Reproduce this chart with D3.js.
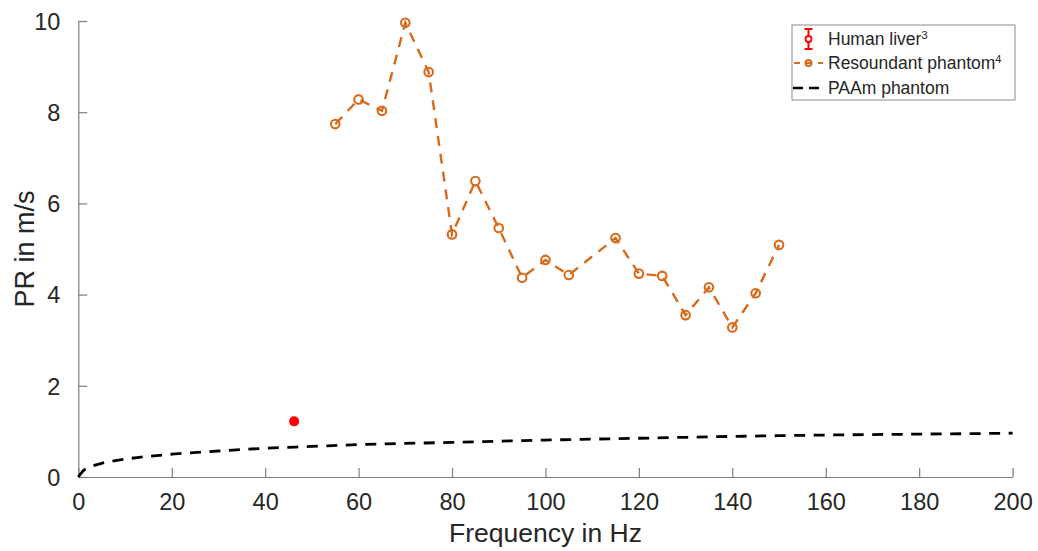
<!DOCTYPE html>
<html>
<head>
<meta charset="utf-8">
<script src="https://cdn.jsdelivr.net/npm/d3@7"></script>
<style>
  body { margin: 0; background: #fff; }
  text { font-family: "Liberation Sans", Arial, sans-serif; fill: #262626; }
</style>
</head>
<body>
<svg id="chart" width="1038" height="551"></svg>
<script>
// Data
var liverFreq = [46.2];
var liverPR = [1.22];
var liverErr = [0.03];

var resFreq = [55, 60, 65, 70, 75, 80, 85, 90, 95, 100, 105, 115, 120, 125, 130, 135, 140, 145, 150];
var resPR = [7.74, 8.28, 8.03, 9.96, 8.88, 5.32, 6.49, 5.46, 4.37, 4.76, 4.43, 5.24, 4.46, 4.41, 3.55, 4.16, 3.28, 4.03, 5.09];

var paamFreq = [0, 1, 3, 5, 10, 20, 30, 40, 50, 60, 80, 100, 120, 140, 160, 180, 200];
var paamPR = [0, 0.13, 0.24, 0.3, 0.39, 0.5, 0.57, 0.63, 0.67, 0.71, 0.76, 0.81, 0.85, 0.89, 0.92, 0.94, 0.96];

var xTicks = [0, 20, 40, 60, 80, 100, 120, 140, 160, 180, 200];
var yTicks = [0, 2, 4, 6, 8, 10];

var legendLabels = ["Human liver", "Resoundant phantom", "PAAm phantom"];
var legendSups = ["3", "4", ""];

var ORANGE = "#D96A1B";
var RED = "#FF0000";
var AXIS_COLOR = "#7f7f7f";

var svg = d3.select("#chart");

var xScale = d3.scaleLinear().domain([0, 200]).range([78.3, 1012.6]);
var yScale = d3.scaleLinear().domain([0, 10]).range([477, 21]);

// Axes (MATLAB style: ticks inside, no box)
var xAxis = d3.axisBottom(xScale).tickValues(xTicks).tickSizeInner(-9).tickSizeOuter(0).tickPadding(16);
var yAxis = d3.axisLeft(yScale).tickValues(yTicks).tickSizeInner(-9).tickSizeOuter(0).tickPadding(18);

var gx = svg.append("g")
    .attr("transform", "translate(0," + yScale(0) + ")")
    .call(xAxis);
var gy = svg.append("g")
    .attr("transform", "translate(" + xScale(0) + ",0)")
    .call(yAxis);

[gx, gy].forEach(function (g) {
    g.select(".domain").attr("stroke", AXIS_COLOR).attr("stroke-width", 1.2);
    g.selectAll(".tick line").attr("stroke", AXIS_COLOR).attr("stroke-width", 1.2);
    g.selectAll(".tick text")
        .attr("font-size", 23.5)
        .attr("font-family", "Liberation Sans, Arial, sans-serif")
        .style("fill", "#262626");
});
gy.selectAll(".tick text").attr("dy", "0.35em");

// Axis labels
svg.append("text")
    .attr("x", (xScale(0) + xScale(200)) / 2)
    .attr("y", 542)
    .attr("text-anchor", "middle")
    .attr("font-size", 26.5)
    .text("Frequency in Hz");

svg.append("text")
    .attr("transform", "translate(34," + yScale(5) + ") rotate(-90)")
    .attr("text-anchor", "middle")
    .attr("font-size", 27)
    .text("PR in m/s");

// PAAm phantom curve
var paamLine = d3.line()
    .x((d, i) => xScale(paamFreq[i]))
    .y((d, i) => yScale(d))
    .curve(d3.curveMonotoneX);

svg.append("path")
    .attr("d", paamLine(paamPR))
    .attr("fill", "none")
    .attr("stroke", "#000")
    .attr("stroke-width", 2.8)
    .attr("stroke-dasharray", "11,8.5");

// Resoundant phantom
var resLine = d3.line()
    .x((d, i) => xScale(resFreq[i]))
    .y((d, i) => yScale(d));

svg.append("path")
    .attr("d", resLine(resPR))
    .attr("fill", "none")
    .attr("stroke", ORANGE)
    .attr("stroke-width", 2.4)
    .attr("stroke-dasharray", "10,8");

svg.selectAll(".res-marker")
    .data(resPR)
    .enter()
    .append("circle")
    .attr("class", "res-marker")
    .attr("cx", (d, i) => xScale(resFreq[i]))
    .attr("cy", (d, i) => yScale(d))
    .attr("r", 4.3)
    .attr("fill", "none")
    .attr("stroke", ORANGE)
    .attr("stroke-width", 2.1);

// Human liver
svg.selectAll(".liver-err")
    .data(liverPR)
    .enter()
    .append("line")
    .attr("class", "liver-err")
    .attr("x1", (d, i) => xScale(liverFreq[i]))
    .attr("x2", (d, i) => xScale(liverFreq[i]))
    .attr("y1", (d, i) => yScale(d - liverErr[i]))
    .attr("y2", (d, i) => yScale(d + liverErr[i]))
    .attr("stroke", RED)
    .attr("stroke-width", 2);

svg.selectAll(".liver-pt")
    .data(liverPR)
    .enter()
    .append("circle")
    .attr("class", "liver-pt")
    .attr("cx", (d, i) => xScale(liverFreq[i]))
    .attr("cy", (d, i) => yScale(d))
    .attr("r", 5)
    .attr("fill", RED);

// Legend
var legend = svg.append("g");
legend.append("rect")
    .attr("x", 792)
    .attr("y", 25)
    .attr("width", 223)
    .attr("height", 75)
    .attr("fill", "#fff")
    .attr("stroke", "#8c8c8c")
    .attr("stroke-width", 1);

var rowY = [39, 63, 88];
var symX0 = 794, symX1 = 823, symXC = 808.5;

// liver symbol: error bar with small circle
legend.append("line").attr("x1", symXC).attr("x2", symXC).attr("y1", 29).attr("y2", 49)
    .attr("stroke", RED).attr("stroke-width", 2);
legend.append("line").attr("x1", symXC - 4).attr("x2", symXC + 4).attr("y1", 29).attr("y2", 29)
    .attr("stroke", RED).attr("stroke-width", 2);
legend.append("line").attr("x1", symXC - 4).attr("x2", symXC + 4).attr("y1", 49).attr("y2", 49)
    .attr("stroke", RED).attr("stroke-width", 2);
legend.append("circle").attr("cx", symXC).attr("cy", rowY[0]).attr("r", 3)
    .attr("fill", "#fff").attr("stroke", RED).attr("stroke-width", 1.8);

// resoundant symbol
legend.append("line").attr("x1", symX0).attr("x2", symX1).attr("y1", rowY[1]).attr("y2", rowY[1])
    .attr("stroke", ORANGE).attr("stroke-width", 2.2).attr("stroke-dasharray", "6,6");
legend.append("circle").attr("cx", symXC).attr("cy", rowY[1]).attr("r", 3)
    .attr("fill", "none").attr("stroke", ORANGE).attr("stroke-width", 2);

// PAAm symbol
legend.append("line").attr("x1", symX0 - 1).attr("x2", symX1).attr("y1", rowY[2]).attr("y2", rowY[2])
    .attr("stroke", "#000").attr("stroke-width", 2.4).attr("stroke-dasharray", "10,6");

legendLabels.forEach(function (lbl, i) {
    var t = legend.append("text")
        .attr("x", 828)
        .attr("y", rowY[i])
        .attr("dy", "0.35em")
        .attr("font-size", 17.5)
        .text(lbl);
    if (legendSups[i]) {
        t.append("tspan")
            .attr("font-size", 11)
            .attr("dy", "-0.6em")
            .text(legendSups[i]);
    }
});
</script>
</body>
</html>
